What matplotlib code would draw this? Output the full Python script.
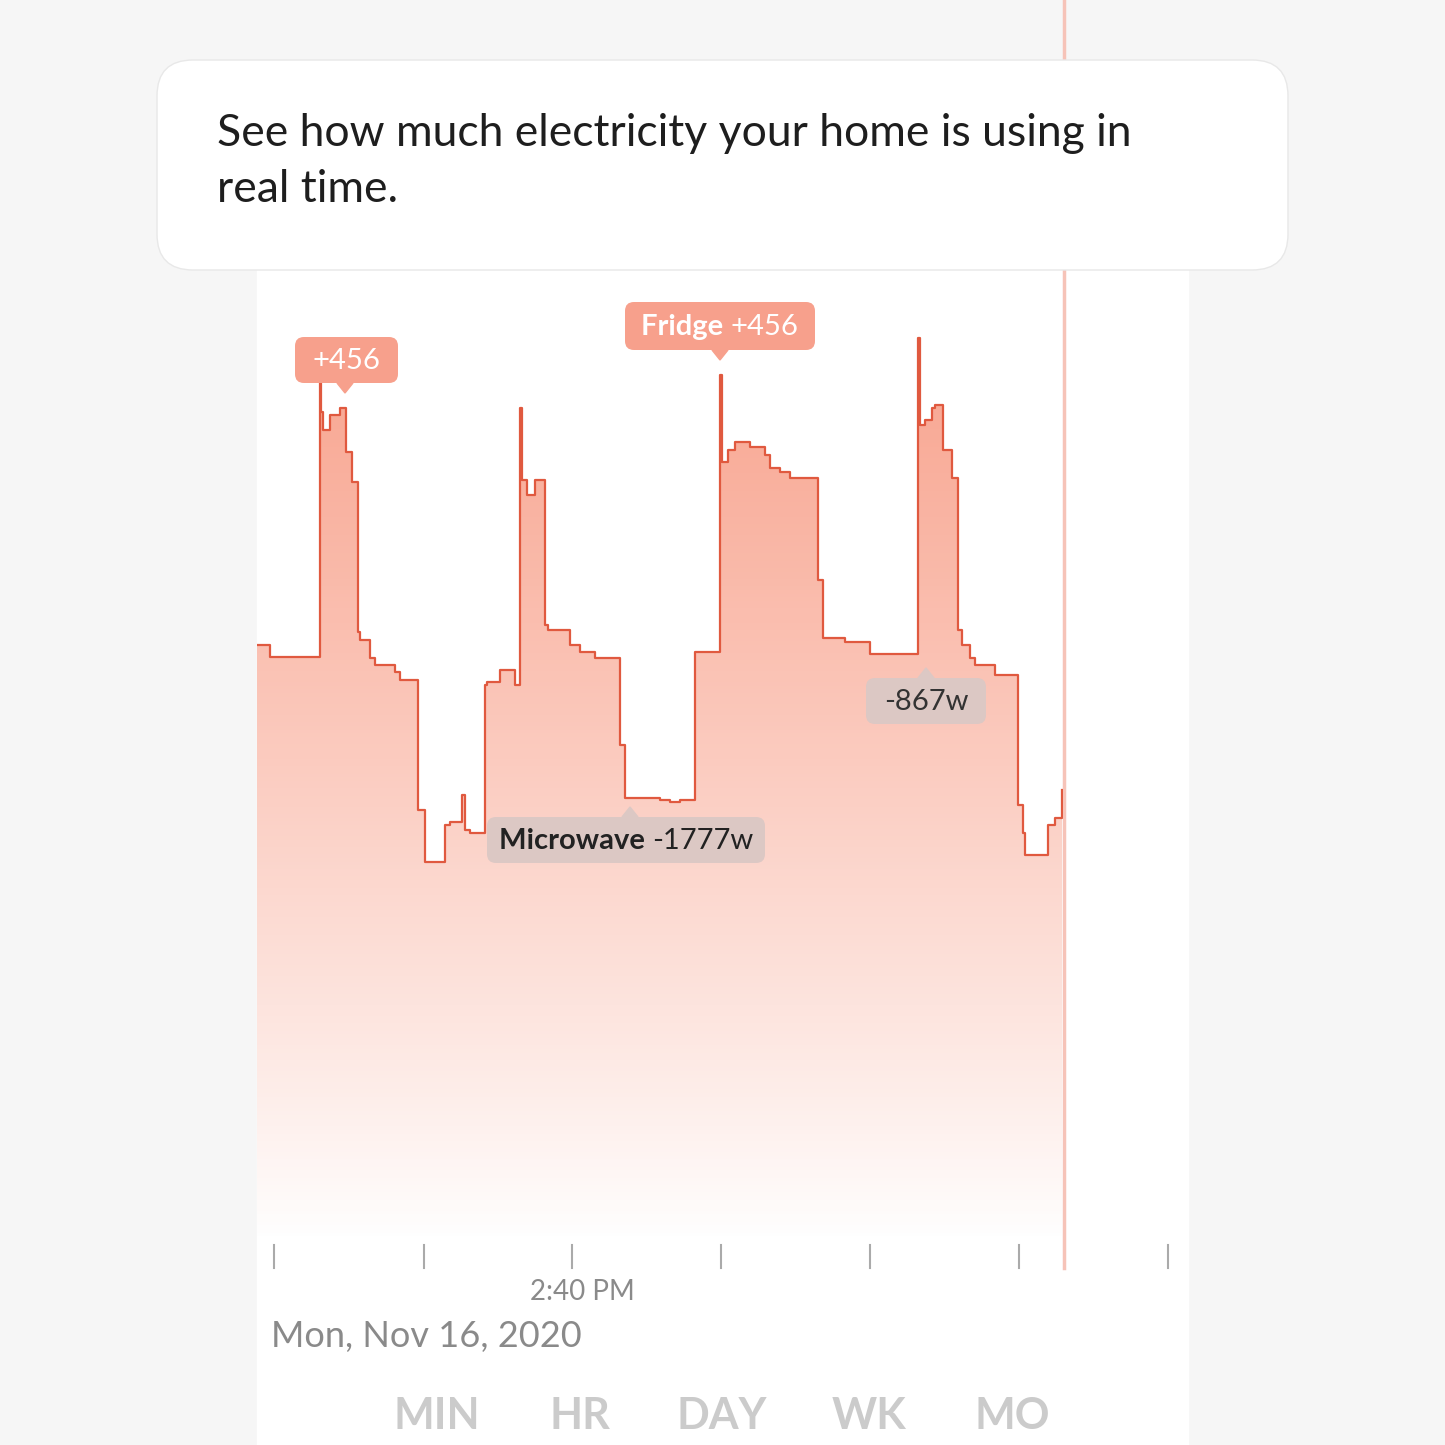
import numpy as np
import matplotlib
matplotlib.use("Agg")
import matplotlib.pyplot as plt
from matplotlib.patches import FancyBboxPatch, Polygon

plt.rcParams['font.family'] = ['Lato', 'DejaVu Sans']

# step series: (segment start time unit, power level in relative units)
seg_x = [0, 13, 63, 64, 66, 73, 83, 89, 95, 101, 103, 113, 118, 138, 143, 161, 168, 188, 193, 205, 208, 213,
         228, 230, 243, 258, 263, 265, 270, 278, 288, 291, 313, 323, 338, 363, 368, 403, 413, 423, 438,
         463, 465, 471, 478, 493, 508, 513, 523, 533, 561, 566, 588, 613,
         661, 663, 668, 675, 678, 686, 695, 701, 705, 713, 718, 738, 761, 766, 768, 791, 798]
seg_y = [595, 583, 872, 828, 810, 825, 832, 788, 758, 608, 600, 582, 575, 568, 560, 430, 378, 415, 418, 445, 410, 407,
         555, 558, 570, 555, 832, 760, 745, 760, 615, 610, 595, 588, 582, 495, 442, 440, 438, 440, 588,
         865, 778, 790, 798, 793, 785, 772, 768, 762, 660, 602, 598, 586,
         902, 815, 820, 832, 835, 790, 762, 610, 595, 582, 575, 565, 435, 407, 385, 415, 422]
x_end = 805
y_end = 450

tick_x = [274, 424, 572, 721, 870, 1019, 1168]
period_labels = ["MIN", "HR", "DAY", "WK", "MO"]
period_x = [437, 580, 722, 869, 1012]

W = 1445
fig = plt.figure(figsize=(14.45, 14.45), dpi=100)
fig.patch.set_facecolor('#f6f6f6')
bg = fig.add_axes([0, 0, 1, 1])
bg.set_xlim(0, W); bg.set_ylim(W, 0); bg.axis('off')
bg.add_patch(plt.Rectangle((257, 250), 931, 1200, color='white', zorder=0))
bg.plot([1064, 1064], [0, 1268], color='#f6c3b8', lw=2.5, zorder=1)

L, R, B, T = 257, 1063, 1240, 300
ax = fig.add_axes([L / W, 1 - B / W, (R - L) / W, (B - T) / W])
ax.set_xlim(0, R - L); ax.set_ylim(0, B - T)
ax.axis('off'); ax.patch.set_alpha(0)
xs = np.array(seg_x + [x_end], float)
px, py = [], []
for i in range(len(seg_x)):
    px += [xs[i], xs[i + 1]]; py += [seg_y[i], seg_y[i]]
px.append(x_end); py.append(y_end)
verts = [(0, 0)] + list(zip(px, py)) + [(x_end, 0)]
poly = Polygon(verts, closed=True, facecolor='none', edgecolor='none')
ax.add_patch(poly)
grad = np.zeros((256, 1, 4))
t = np.linspace(0, 1, 256)
grad[:, 0, :3] = np.array([248, 160, 138]) / 255
grad[:, 0, 3] = np.clip(t ** 0.9, 0, 1)
im = ax.imshow(grad, extent=[0, x_end, 0, 940], origin='lower', aspect='auto', zorder=1)
im.set_clip_path(poly)
ax.plot(px, py, color='#e0593f', lw=1.6, zorder=2)

# overlay for callouts/labels
ov = fig.add_axes([0, 0, 1, 1])
ov.set_xlim(0, W); ov.set_ylim(W, 0); ov.axis('off'); ov.patch.set_alpha(0)

ov.add_patch(FancyBboxPatch((157, 60), 1131, 210, boxstyle="round,pad=0,rounding_size=36",
                            facecolor='white', edgecolor='#e8e8e8', lw=1, zorder=5))
ov.text(217, 134, "See how much electricity your home is using in", fontsize=32, va='center', color='#1e1e1e', zorder=6)
ov.text(217, 190, "real time.", fontsize=32, va='center', color='#1e1e1e', zorder=6)

fig.canvas.draw()
rend = fig.canvas.get_renderer()

def label(x0, x1, y0, y1, p, up, fc, parts, tc):
    ov.add_patch(FancyBboxPatch((x0, y0), x1 - x0, y1 - y0, boxstyle="round,pad=0,rounding_size=9",
                                facecolor=fc, edgecolor='none', zorder=7))
    if up:
        ov.add_patch(Polygon([(p - 8, y0), (p + 8, y0), (p, y0 - 10)], color=fc, zorder=7))
    else:
        ov.add_patch(Polygon([(p - 8, y1), (p + 8, y1), (p, y1 + 10)], color=fc, zorder=7))
    xc = (x0 + x1) / 2; yc = (y0 + y1) / 2 + 1
    if len(parts) == 1:
        ov.text(xc, yc, parts[0], fontsize=21, ha='center', va='center', color=tc, zorder=8)
    else:
        t1 = ov.text(0, yc, parts[0] + " ", fontsize=21, fontweight='bold', ha='left', va='center', color=tc, zorder=8)
        t2 = ov.text(0, yc, parts[1], fontsize=21, ha='left', va='center', color=tc, zorder=8)
        w1 = t1.get_window_extent(rend).width; w2 = t2.get_window_extent(rend).width
        start = xc - (w1 + w2) / 2
        t1.set_x(start); t2.set_x(start + w1)

label(295, 398, 337, 383, 345, False, '#f7a08c', ["+456"], 'white')
label(625, 815, 302, 350, 720, False, '#f7a08c', ["Fridge", "+456"], 'white')
label(866, 986, 678, 724, 926, True, '#dcc8c4', ["-867w"], '#333333')
label(487, 765, 817, 863, 630, True, '#dcc8c4', ["Microwave", "-1777w"], '#222222')

for x in tick_x:
    ov.plot([x, x], [1245, 1268], color='#aaaaaa', lw=1.5)
ov.text(582, 1292, "2:40 PM", fontsize=20, ha='center', va='center', color='#8a8a8a')
ov.text(271, 1337, "Mon, Nov 16, 2020", fontsize=26, ha='left', va='center', color='#8a8a8a')
for lab, x in zip(period_labels, period_x):
    ov.text(x, 1416, lab, fontsize=31, fontweight='bold', ha='center', va='center', color='#cbcbcb')

fig.savefig("out.png", dpi=100, facecolor=fig.get_facecolor())
